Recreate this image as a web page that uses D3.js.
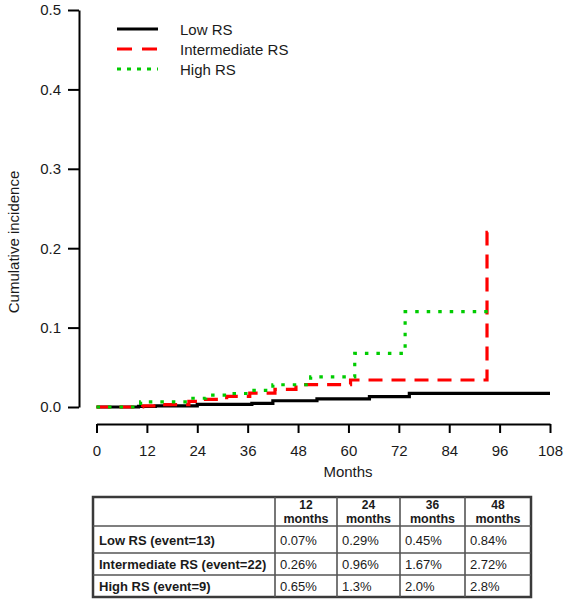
<!DOCTYPE html>
<html><head><meta charset="utf-8">
<script src="https://cdn.jsdelivr.net/npm/d3@7"></script>
<style>body{margin:0;background:#fff}svg{display:block}text{font-family:Arial,"Liberation Sans",sans-serif;fill:#1a1a1a}</style>
</head><body>
<svg id="c" width="566" height="600"></svg>
<script>
// ---- data ----
const seriesNames = ["Low RS", "Intermediate RS", "High RS"];
const lowRS = [[0,0],[10,0.0007],[14,0.0015],[24,0.0032],[37,0.0045],[42,0.0079],[52.5,0.0102],[65,0.013],[74.5,0.0172],[108,0.0172]];
const intermediateRS = [[0,0],[11,0.0013],[15.5,0.003],[22,0.007],[24.5,0.0096],[31,0.0135],[36.5,0.0175],[42.5,0.0222],[47.5,0.0282],[60.5,0.034],[93,0.034],[93,0.22],[94,0.22]];
const highRS = [[0,0],[10.5,0.0065],[22,0.011],[26,0.015],[31,0.017],[36.5,0.021],[42,0.028],[51,0.038],[61.5,0.0675],[73.5,0.12],[94.5,0.12]];
const xTicks = [0,12,24,36,48,60,72,84,96,108];
const yTicks = [0,0.1,0.2,0.3,0.4,0.5];
const tableHeader = ["12", "24", "36", "48"];
const tableRows = ["Low RS (event=13)", "Intermediate RS (event=22)", "High RS (event=9)"];
const tableValues = [["0.07%","0.29%","0.45%","0.84%"],["0.26%","0.96%","1.67%","2.72%"],["0.65%","1.3%","2.0%","2.8%"]];

const svg = d3.select("#c");
const x = d3.scaleLinear().domain([0,108]).range([96.5,550]);
const y = d3.scaleLinear().domain([0,0.5]).range([407,10]);

// y axis
const ya = svg.append("g").attr("transform","translate(79,0)")
  .call(d3.axisLeft(y).tickValues(yTicks).tickFormat(d3.format(".1f")).tickSize(11).tickSizeOuter(0).tickPadding(7));
ya.select(".domain").attr("stroke","#000").attr("stroke-width",2);
ya.selectAll(".tick line").attr("stroke","#000").attr("stroke-width",2);
ya.selectAll(".tick text").attr("font-size",15).attr("font-family","Arial, Liberation Sans, sans-serif").attr("fill","#1a1a1a");

// x axis
const xa = svg.append("g").attr("transform","translate(0,424)")
  .call(d3.axisBottom(x).tickValues(xTicks).tickFormat(d3.format("d")).tickSize(9).tickSizeOuter(0).tickPadding(12));
xa.select(".domain").attr("stroke","#000").attr("stroke-width",2);
xa.selectAll(".tick line").attr("stroke","#000").attr("stroke-width",2);
xa.selectAll(".tick text").attr("font-size",15).attr("font-family","Arial, Liberation Sans, sans-serif").attr("fill","#1a1a1a");

svg.append("text").attr("x",348).attr("y",477).attr("text-anchor","middle").attr("font-size",15).text("Months");
svg.append("text").attr("transform","translate(19,242) rotate(-90)").attr("text-anchor","middle").attr("font-size",15).text("Cumulative incidence");

// curves
const line = d3.line().x(d=>x(d[0])).y(d=>y(d[1])).curve(d3.curveStepAfter);
const styles = [
  {data: lowRS, color:"#000000", dash:null, cap:"butt"},
  {data: intermediateRS, color:"#ff0000", dash:"14,9", cap:"butt"},
  {data: highRS, color:"#00cc00", dash:"3.5,8", cap:"butt"}
];
styles.forEach(s=>{
  svg.append("path").attr("d",line(s.data)).attr("fill","none")
    .attr("stroke",s.color).attr("stroke-width",3.2)
    .attr("stroke-dasharray",s.dash).attr("stroke-linecap",s.cap);
});

// legend
const lg = svg.append("g");
seriesNames.forEach((n,i)=>{
  const yy = 29 + i*20;
  lg.append("line").attr("x1",117).attr("x2",158).attr("y1",yy).attr("y2",yy)
    .attr("stroke",styles[i].color).attr("stroke-width",3.2)
    .attr("stroke-dasharray",i===1?"15,10":(i===2?"4,6":null));
  lg.append("text").attr("x",180).attr("y",yy+5.5).attr("font-size",15).text(n);
});

// table
const colX = [93,275,337,400,465,531];
const rowY = [497,526,553,575,597];
const tb = svg.append("g");
tb.append("rect").attr("x",colX[0]).attr("y",rowY[0]).attr("width",colX[5]-colX[0]).attr("height",rowY[4]-rowY[0])
  .attr("fill","none").attr("stroke","#3a3a3a").attr("stroke-width",2.5);
colX.slice(1,5).forEach(cx=>tb.append("line").attr("x1",cx).attr("x2",cx).attr("y1",rowY[0]).attr("y2",rowY[4]).attr("stroke","#555").attr("stroke-width",1.6));
rowY.slice(1,4).forEach(ry=>tb.append("line").attr("x1",colX[0]).attr("x2",colX[5]).attr("y1",ry).attr("y2",ry).attr("stroke","#555").attr("stroke-width",1.6));
tableHeader.forEach((h,i)=>{
  const cx = (colX[i+1]+colX[i+2])/2;
  tb.append("text").attr("x",cx).attr("y",508.5).attr("text-anchor","middle").attr("font-size",12).attr("font-weight","bold").text(h);
  tb.append("text").attr("x",cx).attr("y",523).attr("text-anchor","middle").attr("font-size",12.5).attr("font-weight","bold").text("months");
});
tableRows.forEach((r,i)=>{
  const by = (rowY[i+1]+rowY[i+2])/2 + 5;
  tb.append("text").attr("x",colX[0]+6).attr("y",by).attr("font-size",13).attr("font-weight","bold").text(r);
  tableValues[i].forEach((v,j)=>{
    tb.append("text").attr("x",colX[j+1]+5).attr("y",by).attr("font-size",13).text(v);
  });
});
</script>
</body></html>
